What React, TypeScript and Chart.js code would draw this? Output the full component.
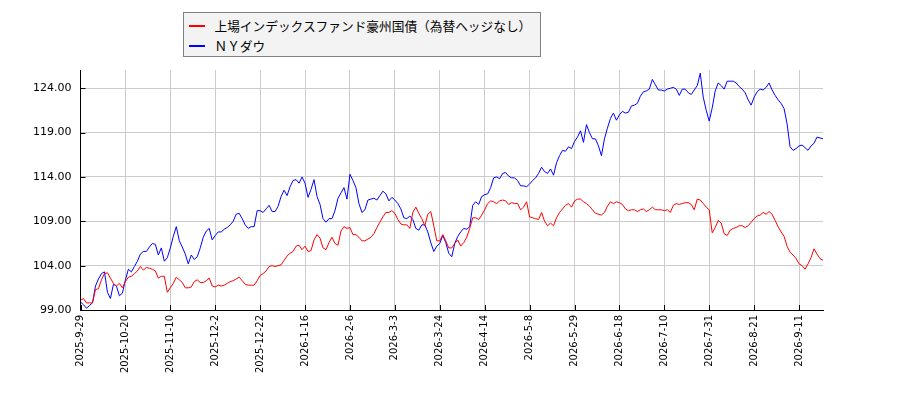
import React, { useEffect, useRef } from "react";
import { Chart, registerables } from "chart.js";

Chart.register(...registerables);

const TICK_LABELS = [
  "2025-9-29", "2025-10-20", "2025-11-10", "2025-12-2", "2025-12-22",
  "2026-1-16", "2026-2-6", "2026-3-3", "2026-3-24", "2026-4-14",
  "2026-5-8", "2026-5-29", "2026-6-18", "2026-7-10", "2026-7-31",
  "2026-8-21", "2026-9-11",
];
const TICK_STEP = 15;
const Y_TICKS = [99, 104, 109, 114, 119, 124];

const SERIES_NAMES = ["上場インデックスファンド豪州国債（為替ヘッジなし）", "ＮＹダウ"];

const FUND = [
  100.1, 100.3, 99.8, 99.8, 99.8, 101.3, 101.4, 102.4, 103.1, 103.2,
  102.6, 102.0, 101.7, 102.0, 101.5, 102.2, 102.7, 102.8, 103.1, 103.4,
  103.9, 103.5, 103.8, 103.7, 103.6, 103.4, 102.6, 102.8, 102.8, 101.0,
  101.5, 102.0, 102.7, 102.4, 102.1, 101.5, 101.5, 101.6, 102.2, 102.4,
  102.1, 102.1, 102.3, 102.6, 101.7, 101.6, 101.8, 101.7, 101.8, 102.0,
  102.2, 102.3, 102.5, 102.7, 102.3, 101.9, 101.8, 101.8, 101.8, 102.3,
  102.9, 103.1, 103.4, 103.9, 104.0, 103.9, 104.0, 104.1, 104.6, 105.1,
  105.4, 105.6, 106.2, 106.3, 105.8, 106.2, 105.6, 105.7, 106.9, 107.5,
  107.1, 106.0, 105.8, 106.6, 107.2, 106.5, 106.3, 107.9, 108.4, 108.2,
  108.3, 107.5, 107.5, 107.2, 106.8, 106.8, 107.0, 107.2, 107.6, 108.3,
  108.9, 109.5, 110.0, 110.0, 110.2, 109.9, 109.2, 108.7, 108.6, 108.6,
  108.2, 110.0, 110.6, 109.9, 109.3, 108.5, 109.8, 110.1, 108.5, 106.8,
  106.8, 107.5, 106.8, 106.0, 106.0, 106.5, 106.9, 106.2, 106.6, 107.2,
  108.2, 109.4, 109.4, 109.2, 109.7, 110.3, 111.0, 111.3, 111.2, 111.0,
  111.3, 111.4, 111.3, 110.9, 111.1, 111.0, 111.0, 110.3, 110.6, 111.2,
  109.5, 109.4, 109.3, 109.2, 110.0, 109.0, 108.5, 108.8, 108.5, 109.4,
  110.0, 110.4, 110.8, 111.0, 110.6, 111.3, 111.5, 111.5, 111.2, 111.0,
  110.7, 110.3, 109.9, 109.8, 109.7, 110.0, 110.7, 111.2, 111.0, 111.2,
  111.1, 110.9, 110.4, 110.2, 110.3, 110.3, 110.1, 110.3, 110.4, 110.1,
  110.3, 110.6, 110.3, 110.3, 110.3, 110.2, 110.3, 110.0, 110.8, 111.0,
  110.9, 111.0, 111.1, 111.1, 110.9, 110.3, 111.5, 111.4, 111.0, 110.6,
  110.3, 107.7, 108.3, 109.1, 108.8, 107.6, 107.4, 108.0, 108.2, 108.3,
  108.5, 108.5, 108.3, 108.5, 108.9, 109.3, 109.6, 109.7, 110.0, 109.8,
  110.1, 109.8, 109.1, 108.4, 107.8, 107.3, 106.2, 105.5, 105.2, 104.8,
  104.2, 104.0, 103.6, 104.2, 104.9, 105.9, 105.3, 104.8, 104.6,
];

const DOW = [
  99.9, 99.6, 99.2, 99.5, 99.8, 101.7, 102.5, 103.1, 103.3, 101.0,
  100.3, 101.9, 101.7, 100.6, 100.9, 102.4, 103.6, 103.3, 103.9, 104.5,
  105.3, 105.6, 105.6, 106.1, 106.5, 106.4, 105.2, 106.0, 104.5, 104.9,
  106.0, 107.3, 108.4, 106.8, 106.1, 105.3, 104.2, 105.2, 104.7, 105.0,
  106.0, 107.2, 107.9, 108.2, 106.9, 107.4, 107.8, 107.8, 108.1, 108.3,
  108.6, 109.0, 109.8, 109.9, 109.3, 108.6, 108.2, 108.4, 108.4, 110.2,
  110.2, 110.0, 110.4, 110.8, 110.1, 110.1, 110.7, 111.8, 112.5, 111.9,
  112.9, 113.6, 113.7, 113.3, 114.0, 113.3, 111.7, 112.6, 113.7, 111.8,
  110.9, 109.3, 108.9, 109.3, 109.3, 110.2, 111.6, 112.2, 112.8, 111.5,
  114.3, 113.6, 112.8, 111.0, 110.0, 110.3, 111.4, 111.5, 111.6, 111.4,
  111.9, 112.4, 112.1, 111.3, 111.7, 111.4, 111.0, 110.4, 109.4, 109.3,
  109.6, 109.2, 108.2, 108.0, 108.6, 108.6, 107.8, 106.6, 105.6, 106.2,
  106.5, 107.4, 106.6, 105.4, 105.0, 106.5, 107.3, 107.8, 108.2, 108.1,
  108.4, 110.8, 111.2, 110.9, 111.8, 112.0, 112.1, 112.8, 113.9, 114.0,
  113.8, 114.4, 114.5, 114.1, 113.9, 113.9, 113.6, 113.0, 113.0, 112.9,
  113.2, 113.6, 113.9, 114.4, 115.1, 114.6, 114.4, 114.9, 114.2, 115.6,
  116.4, 117.0, 116.9, 117.4, 117.2, 118.0, 118.5, 119.2, 117.9, 119.9,
  119.0, 118.3, 118.3, 117.5, 116.4, 118.3, 119.5, 120.6, 121.2, 120.4,
  121.0, 121.4, 121.2, 121.3, 122.0, 122.1, 122.3, 123.1, 123.6, 123.7,
  123.9, 125.0, 124.4, 123.8, 123.8, 123.7, 123.9, 124.0, 124.1, 123.9,
  123.2, 123.9, 123.9, 123.5, 123.3, 123.8, 124.3, 125.7, 123.0, 121.5,
  120.3, 121.8, 123.7, 124.6, 124.3, 123.9, 124.8, 124.8, 124.8, 124.6,
  124.2, 123.9, 123.5, 122.7, 122.1, 123.0, 123.6, 123.9, 123.8, 124.1,
  124.6, 123.8, 123.2, 122.7, 122.3, 121.7, 120.0, 117.4, 117.0, 117.2,
  117.5, 117.6, 117.3, 117.0, 117.5, 117.8, 118.5, 118.4, 118.3,
];

const COLORS = ["#ff0000", "#0000ff"];

const innerTicks = {
  id: "innerTicks",
  afterDatasetsDraw(chart: any) {
    const { ctx, chartArea } = chart;
    const xs = chart.scales.x;
    const ys = chart.scales.y;
    ctx.save();
    ctx.strokeStyle = "#000";
    ctx.lineWidth = 1;
    ctx.beginPath();
    xs.ticks.forEach((t: any) => {
      const px = Math.round(xs.getPixelForValue(t.value)) + 0.5;
      ctx.moveTo(px, chartArea.bottom);
      ctx.lineTo(px, chartArea.bottom - 5);
    });
    ys.ticks.forEach((t: any) => {
      const py = Math.round(ys.getPixelForValue(t.value)) + 0.5;
      ctx.moveTo(chartArea.left, py);
      ctx.lineTo(chartArea.left + 5, py);
    });
    ctx.stroke();
    ctx.restore();
  },
};

export default function App() {
  const ref = useRef<HTMLCanvasElement | null>(null);

  useEffect(() => {
    if (!ref.current) return;
    const toPts = (arr: number[]) => arr.map((v, i) => ({ x: i, y: v }));
    const chart = new Chart(ref.current, {
      type: "line",
      data: {
        datasets: [
          {
            label: SERIES_NAMES[0],
            data: toPts(FUND),
            borderColor: COLORS[0],
            borderWidth: 1,
            pointRadius: 0,
            tension: 0,
          },
          {
            label: SERIES_NAMES[1],
            data: toPts(DOW),
            borderColor: COLORS[1],
            borderWidth: 1,
            pointRadius: 0,
            tension: 0,
          },
        ],
      },
      options: {
        animation: false,
        responsive: false,
        devicePixelRatio: 1,
        layout: { padding: { left: 0, right: 77, top: 70, bottom: 0 } },
        plugins: { legend: { display: false }, tooltip: { enabled: false } },
        scales: {
          x: {
            type: "linear",
            min: 0,
            max: FUND.length - 1,
            afterBuildTicks: (scale: any) => {
              scale.ticks = TICK_LABELS.map((_, i) => ({ value: i * TICK_STEP }));
            },
            afterFit: (scale: any) => {
              scale.height = 90;
            },
            ticks: {
              autoSkip: false,
              maxRotation: 90,
              minRotation: 90,
              padding: 5,
              color: "#000",
              font: { family: "DejaVu Sans", size: 10 },
              callback: (v: any) => TICK_LABELS[Math.round(Number(v) / TICK_STEP)] ?? "",
            },
            grid: { color: "#cccccc", lineWidth: 1, drawTicks: false },
            border: { color: "#000", width: 1 },
          },
          y: {
            min: 99,
            max: 126.06,
            afterBuildTicks: (scale: any) => {
              scale.ticks = Y_TICKS.map((v) => ({ value: v }));
            },
            afterFit: (scale: any) => {
              scale.width = 80.5;
            },
            ticks: {
              padding: 9,
              color: "#000",
              font: { family: "DejaVu Sans", size: 11 },
              callback: (v: any) => Number(v).toFixed(2),
            },
            grid: { color: "#cccccc", lineWidth: 1, drawTicks: false },
            border: { color: "#000", width: 1 },
          },
        },
      },
      plugins: [innerTicks],
    });
    return () => chart.destroy();
  }, []);

  const rowStyle: React.CSSProperties = {
    position: "absolute",
    left: 0,
    height: 20,
    display: "flex",
    alignItems: "center",
    whiteSpace: "nowrap",
  };

  return (
    <div style={{ position: "absolute", left: 0, top: 0, width: 900, height: 400, background: "#fff" }}>
      <canvas ref={ref} width={900} height={400} style={{ display: "block", width: 900, height: 400 }} />
      <div
        style={{
          position: "absolute",
          left: 183,
          top: 12,
          width: 358,
          height: 45,
          boxSizing: "border-box",
          border: "1px solid #808080",
          background: "#f3f3f3",
          fontFamily: "'Noto Sans CJK JP', 'DejaVu Sans', sans-serif",
          fontSize: 12.7,
          color: "#000",
        }}
      >
        {SERIES_NAMES.map((name, i) => (
          <div key={name} style={{ ...rowStyle, top: 2.5 + i * 20.5 }}>
            <span
              style={{
                display: "inline-block",
                width: 16,
                height: 2,
                background: COLORS[i],
                marginLeft: 4.5,
                marginRight: 10,
              }}
            />
            <span style={{ lineHeight: "20px" }}>{name}</span>
          </div>
        ))}
      </div>
    </div>
  );
}
